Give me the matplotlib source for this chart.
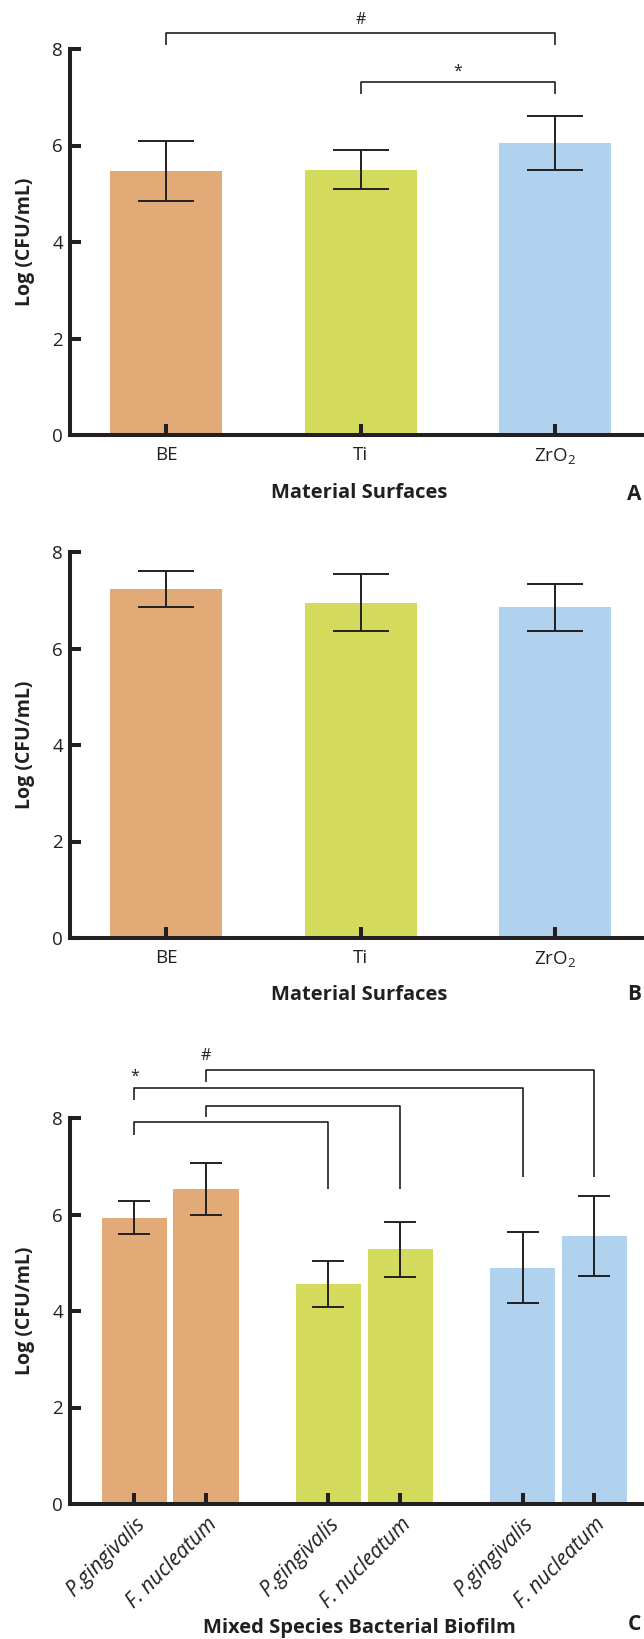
import matplotlib
matplotlib.use('Agg')
import matplotlib.pyplot as plt
import numpy as np

plt.rcParams['font.family'] = ['Open Sans', 'DejaVu Sans']
plt.rcParams['mathtext.fontset'] = 'custom'
plt.rcParams['mathtext.rm'] = 'Open Sans'
plt.rcParams['mathtext.it'] = 'Open Sans:italic'
plt.rcParams['mathtext.bf'] = 'Open Sans:bold'

ink = '#231f20'
colors = ['#e2aa77', '#d4db5c', '#b0d2ee']

# panel A / B : material surfaces
surfaces = ['BE', 'Ti', 'ZrO$_2$']
a_mean = [5.47, 5.50, 6.05]
a_err = [0.63, 0.41, 0.56]
b_mean = [7.24, 6.95, 6.85]
b_err = [0.37, 0.59, 0.49]

# panel C : mixed species biofilm
species = ['P.gingivalis', 'F. nucleatum']
c_pg_mean = [5.93, 4.56, 4.90]
c_pg_err = [0.34, 0.47, 0.74]
c_fn_mean = [6.53, 5.28, 5.55]
c_fn_err = [0.54, 0.57, 0.83]

yticks = [0, 2, 4, 6, 8]

# significance brackets: (x1, x2, top, left leg end, right leg end)
a_brackets = [(0, 2, 8.33, 8.08, 8.08), (1, 2, 7.32, 7.07, 7.07)]
a_marks = [('#', 1, 8.61), ('*', 1.5, 7.54)]
c_brackets = [(0, 2, 7.91, 7.65, 6.53), (1, 3, 8.25, 8.02, 6.53),
              (0, 4, 8.63, 8.37, 6.77), (1, 5, 8.99, 8.74, 6.77)]
c_marks = [('*', 0, 8.86), ('#', 1, 9.29)]


def style(ax):
    ax.set_ylim(0, 8)
    ax.set_yticks(yticks)
    ax.spines['top'].set_visible(False)
    ax.spines['right'].set_visible(False)
    for s in ['left', 'bottom']:
        ax.spines[s].set_linewidth(2.9)
        ax.spines[s].set_color(ink)
        ax.spines[s].set_capstyle('projecting')
    ax.tick_params(direction='in', length=8, width=2.9, color=ink,
                   labelcolor=ink, labelsize=13.5)
    ax.tick_params(axis='y', pad=5)


def bracket(ax, xs, x1, x2, top, y1, y2):
    ax.plot([xs[x1], xs[x1], xs[x2], xs[x2]], [y1, top, top, y2],
            color=ink, lw=1.2, clip_on=False, solid_capstyle='butt')


fig = plt.figure(figsize=(6.44, 16.39), dpi=100)
W, H = 644, 1639
axA = fig.add_axes([70 / W, 1 - 435 / H, 574 / W, 386 / H])
axB = fig.add_axes([70 / W, 1 - 938 / H, 574 / W, 386 / H])
axC = fig.add_axes([70 / W, 1 - 1504 / H, 574 / W, 386 / H])

x = np.arange(len(surfaces))
for ax, mean, err in [(axA, a_mean, a_err), (axB, b_mean, b_err)]:
    ax.bar(x, mean, width=0.576, color=colors)
    ax.errorbar(x, mean, yerr=err, fmt='none', ecolor=ink, elinewidth=1.4,
                capsize=20, capthick=1.4)
    style(ax)
    ax.set_xlim(-0.494, 2.458)
    ax.set_xticks(x)
    ax.set_xticklabels(surfaces)
    ax.tick_params(axis='x', pad=8)

for x1, x2, top, y1, y2 in a_brackets:
    bracket(axA, x, x1, x2, top, y1, y2)
for lab, lx, ly in a_marks:
    axA.text(lx, ly, lab, ha='center', va='center', fontsize=11.5, color=ink)

# panel C
off = 0.185
pos = []
for g in range(3):
    pos += [g - off, g + off]
pos = np.array(pos)
means = []
errs = []
cols = []
for g in range(3):
    means += [c_pg_mean[g], c_fn_mean[g]]
    errs += [c_pg_err[g], c_fn_err[g]]
    cols += [colors[g], colors[g]]
axC.bar(pos, means, width=0.336, color=cols)
axC.errorbar(pos, means, yerr=errs, fmt='none', ecolor=ink, elinewidth=1.4,
             capsize=11.8, capthick=1.4)
style(axC)
axC.set_xlim(-0.516, 2.44)
axC.set_xticks(pos)
axC.set_xticklabels(species * 3, rotation=45, ha='right', va='top',
                    rotation_mode='anchor', fontstyle='italic', fontsize=15)
axC.tick_params(axis='x', pad=7)
for x1, x2, top, y1, y2 in c_brackets:
    bracket(axC, pos, x1, x2, top, y1, y2)
for lab, lx, ly in c_marks:
    axC.text(pos[lx], ly, lab, ha='center', va='center', fontsize=11.5, color=ink)

# axis titles and panel letters
for yc in [(49 + 435) / 2, (552 + 938) / 2, (1117 + 1504) / 2]:
    fig.text(25 / W, 1 - yc / H, 'Log (CFU/mL)', rotation=90, ha='center',
             va='center', fontsize=14, fontweight='bold', color=ink)
for yc, t in [(493, 'Material Surfaces'), (995, 'Material Surfaces'),
              (1628, 'Mixed Species Bacterial Biofilm')]:
    fig.text(359 / W, 1 - yc / H, t, ha='center', va='center', fontsize=14.5,
             fontweight='bold', color=ink)
for yc, t in [(495, 'A'), (995, 'B'), (1625, 'C')]:
    fig.text(641 / W, 1 - yc / H, t, ha='right', va='center', fontsize=15,
             fontweight='bold', color=ink)

fig.savefig('out.png', dpi=100)
